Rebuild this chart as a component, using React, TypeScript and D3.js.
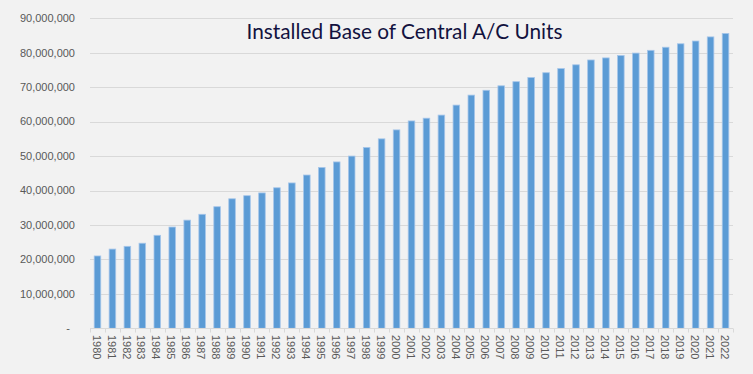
import React, { useEffect, useRef } from 'react';
import * as d3 from 'd3';

const years: string[] = d3.range(1980, 2023).map(String);

// installed units
const units: number[] = [
  21.0, 23.0, 23.8, 24.7, 27.0, 29.4, 31.4, 33.1, 35.3, 37.6,
  38.5, 39.3, 40.8, 42.2, 44.5, 46.7, 48.3, 50.0, 52.5, 55.0,
  57.6, 60.2, 61.0, 61.9, 64.8, 67.7, 69.1, 70.4, 71.6, 72.8,
  74.2, 75.4, 76.5, 77.9, 78.5, 79.2, 79.9, 80.7, 81.6, 82.6,
  83.4, 84.6, 85.6,
].map(v => v * 1e6);

const yTicks: number[] = d3.range(0, 90000001, 10000000);

const title = 'Installed Base of Central A/C Units';

const App: React.FC = () => {
  const svgRef = useRef<SVGSVGElement>(null);

  useEffect(() => {
    if (!svgRef.current) return;
    const svg = d3.select(svgRef.current);
    svg.selectAll('*').remove();

    const width = 753;
    const height = 374;
    const plot = { left: 90, right: 733, top: 18.3, bottom: 328.3 };

    svg.append('rect')
      .attr('width', width)
      .attr('height', height)
      .attr('fill', '#f2f2f2');

    const x = d3.scaleBand<string>()
      .domain(years)
      .range([plot.left, plot.right])
      .padding(0);

    const y = d3.scaleLinear()
      .domain([0, 90000000])
      .range([plot.bottom, plot.top]);

    // gridlines
    svg.append('g')
      .selectAll('line')
      .data(yTicks.filter(d => d > 0))
      .enter()
      .append('line')
      .attr('x1', plot.left)
      .attr('x2', plot.right)
      .attr('y1', d => Math.round(y(d)) + 0.5)
      .attr('y2', d => Math.round(y(d)) + 0.5)
      .attr('stroke', '#d9d9d9')
      .attr('stroke-width', 1);

    // y labels
    const fmt = d3.format(',');
    svg.append('g')
      .selectAll('text')
      .data(yTicks)
      .enter()
      .append('text')
      .attr('x', d => (d === 0 ? 70 : 75))
      .attr('y', d => y(d))
      .attr('dy', '0.35em')
      .attr('text-anchor', 'end')
      .style('font-family', '"Liberation Sans", Arial, sans-serif')
      .style('font-size', '11px')
      .style('fill', '#595959')
      .text(d => (d === 0 ? '-' : fmt(d)));

    // bars
    const barW = x.bandwidth() * 0.44;
    svg.append('g')
      .selectAll('rect')
      .data(units)
      .enter()
      .append('rect')
      .attr('x', (d, i) => (x(years[i]) as number) + (x.bandwidth() - barW) / 2)
      .attr('y', d => y(d))
      .attr('width', barW)
      .attr('height', d => plot.bottom - y(d))
      .attr('fill', '#5b9bd5')
      .attr('stroke', '#a6c6ea')
      .attr('stroke-width', 0.8);

    // x axis line + ticks
    const base = Math.round(plot.bottom) + 0.5;
    svg.append('line')
      .attr('x1', plot.left)
      .attr('x2', plot.right)
      .attr('y1', base)
      .attr('y2', base)
      .attr('stroke', '#d9d9d9');

    const tickXs = years.map(yr => x(yr) as number).concat([plot.right]);
    svg.append('g')
      .selectAll('line')
      .data(tickXs)
      .enter()
      .append('line')
      .attr('x1', d => Math.round(d) + 0.5)
      .attr('x2', d => Math.round(d) + 0.5)
      .attr('y1', base)
      .attr('y2', base + 4)
      .attr('stroke', '#d9d9d9');

    // x labels, rotated
    svg.append('g')
      .selectAll('text')
      .data(years)
      .enter()
      .append('text')
      .attr('transform', d => `translate(${(x(d) as number) + x.bandwidth() / 2 - 1},335) rotate(90)`)
      .attr('dy', '0.35em')
      .attr('text-anchor', 'start')
      .style('font-family', '"Liberation Sans", Arial, sans-serif')
      .style('font-size', '11px')
      .style('fill', '#595959')
      .text(d => d);

    // title
    svg.append('text')
      .attr('x', 404.5)
      .attr('y', 39)
      .attr('text-anchor', 'middle')
      .style('font-family', 'Lato, "Open Sans", sans-serif')
      .style('font-size', '20.8px')
      .style('fill', '#12123f')
      .text(title);
  }, []);

  return (
    <div style={{ position: 'absolute', left: 0, top: 0 }}>
      <svg ref={svgRef} width={753} height={374} style={{ display: 'block' }} />
    </div>
  );
};

export default App;
